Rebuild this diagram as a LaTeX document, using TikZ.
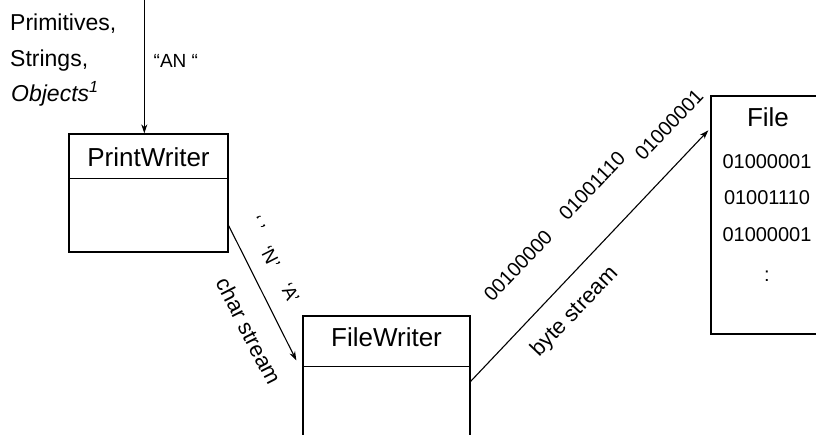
\documentclass[tikz,border=0pt]{standalone}
\usepackage{fontspec}
\setmainfont{Liberation Sans}
\usetikzlibrary{arrows.meta,calc}
\begin{document}
\begin{tikzpicture}[x=1pt,y=-1pt,
  box/.style={draw,line width=1.3pt,inner sep=0pt},
  conn/.style={line width=1.1pt,-{Stealth[length=9pt,width=6pt]}},
  lbl/.style={inner sep=0pt,font=\fontsize{23}{27}\selectfont},
  title/.style={inner sep=0pt,font=\fontsize{26}{30}\selectfont},
  bits/.style={inner sep=0pt,font=\fontsize{20}{24}\selectfont},
  slabel/.style={inner sep=0pt,font=\fontsize{22}{26}\selectfont},
  qlabel/.style={inner sep=0pt,font=\fontsize{19}{23}\selectfont}]
\useasboundingbox (0,0) rectangle (816,434);
\clip (0,0) rectangle (816,434);
% boxes
\node[box,minimum width=159pt,minimum height=118pt] (pw) at (148.5,193) {};
\draw[line width=1.3pt] ($(pw.north west)+(0,45)$) coordinate (pwd1) -- (pwd1 -| pw.east);
\node[title,anchor=base] (pwt) at (148.5,166.5) {PrintWriter};
\node[box,minimum width=167pt,minimum height=160pt] (fw) at (386.5,396) {};
\draw[line width=1.3pt] ($(fw.north west)+(0,51)$) coordinate (fwd1) -- (fwd1 -| fw.east);
\node[title,anchor=base] (fwt) at (386.5,346.5) {FileWriter};
\node[box,minimum width=130pt,minimum height=238pt] (file) at (776,215) {};
\node[title,anchor=base] (filet) at (768,126) {File};
\node[bits] (b1) at (767,162) {01000001};
\node[bits] (b2) at (767,198) {01001110};
\node[bits] (b3) at (767,235) {01000001};
\node[bits] (b4) at (767,276) {:};
% input labels
\node[lbl,anchor=base west] (prim) at (10,30.5) {Primitives,};
\node[lbl,anchor=base west] (str) at (10,66.5) {Strings,};
\node[lbl,anchor=base west] (obj) at (11,101.5) {\textit{Objects\textsuperscript{1}}};
\node[inner sep=0pt,font=\fontsize{19}{23}\selectfont,anchor=base west] (an) at (153.5,67.5) {“AN “};
% connectors
\coordinate (top) at (144.3,0);
\draw[conn] (top) -- (top |- pw.north);
\coordinate (cs) at ($(pw.south east)+(0,-27)$);
\coordinate (ce) at ($(fw.north west)+(-6,45)$);
\draw[conn] (cs) -- (ce);
\coordinate (bs) at ($(fw.north east)+(0,66)$);
\coordinate (be) at ($(file.north west)+(-2,35)$);
\draw[conn] (bs) -- (be);
% char stream labels
\node[slabel,rotate=-63] (chs) at (249,331) {char stream};
\node[qlabel,rotate=-63] (q1) at (257,224) {‘ ’};
\node[qlabel,rotate=-63] (q2) at (270,257) {‘N’};
\node[qlabel,rotate=-63] (q3) at (290,293) {‘A’};
% byte stream labels
\node[slabel,rotate=46.4] (bys) at (575,312) {byte stream};
\node[bits,rotate=46.4] (r1) at (518,266) {00100000};
\node[bits,rotate=46.4] (r2) at (592,186) {01001110};
\node[bits,rotate=46.4] (r3) at (669,125) {01000001};
\end{tikzpicture}
\end{document}
